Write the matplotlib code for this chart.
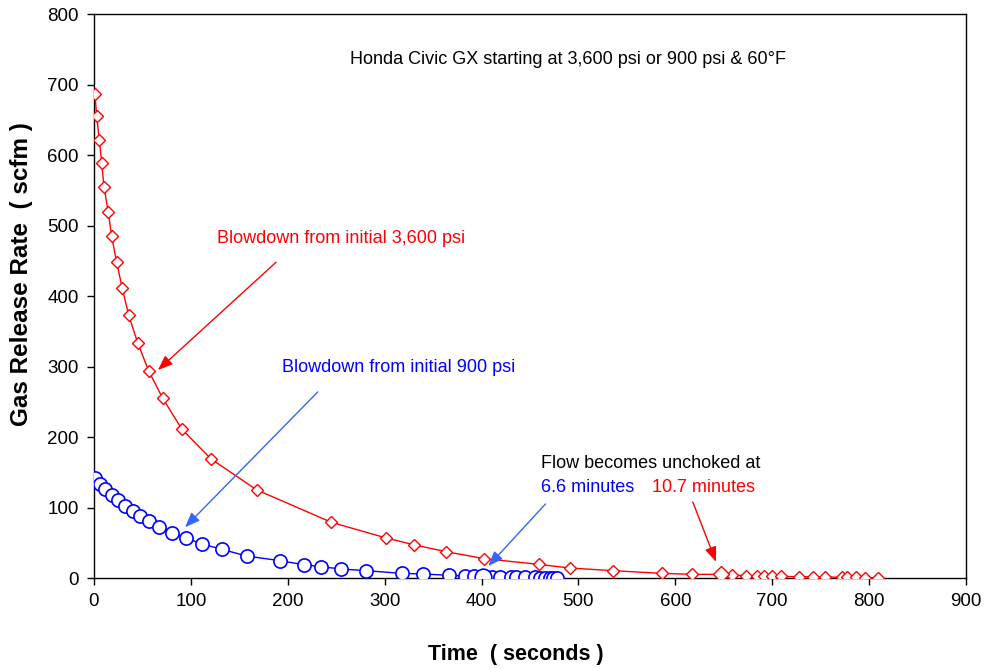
import matplotlib.pyplot as plt
import numpy as np

plt.rcParams['font.family'] = ['Liberation Sans', 'DejaVu Sans']

# blowdown from 3,600 psi (seconds, scfm)
t_3600 = [1, 2.8, 5.5, 8, 10.3, 14.8, 18.2, 23.4, 29.2, 35.8, 45, 56.4, 70.9,
          90.8, 120.7, 168, 245, 301, 330.6, 363.6, 403, 459, 491, 536, 586,
          617.5, 647.6, 658, 673, 684, 691.4, 699.4, 709, 727.5, 742, 755,
          772, 777, 786, 796, 808.7]
q_3600 = [686, 655, 622, 589, 555, 519, 485, 448, 411, 373, 334, 294, 255,
          211, 169, 125, 79, 57, 47, 37.3, 27.4, 19.4, 14.2, 10.4, 6.6,
          5.2, 5.2, 4.0, 3.5, 3.0, 2.8, 2.5, 2.2, 1.9, 1.6, 1.4, 1.2,
          1.0, 0.8, 0.6, 0.4]

# blowdown from 900 psi
t_900 = [1, 6.2, 11.7, 18.3, 24.8, 32, 39.9, 48, 57, 67.4, 80.5, 95, 111.8,
         132, 157.6, 192, 216.7, 234.6, 255, 281, 317.5, 340, 366.7, 383,
         392, 401, 410.4, 419, 430, 436, 444.5, 455, 460, 465.8, 470.6,
         474, 478]
q_900 = [141.4, 134, 126, 118, 110.6, 102, 95.5, 88, 80.4, 72.8, 63.4, 56.7,
         48.2, 40.7, 31.2, 24.6, 18.9, 16, 12.8, 10.4, 6.6, 5.7, 3.8, 2.8,
         2.4, 2.0, 1.8, 1.6, 1.4, 1.2, 1.0, 0.8, 0.6, 0.5, 0.4, 0.3, 0.2]

# points where the flow stops being choked
unchoke_900 = 25    # index into t_900 / q_900
unchoke_3600 = 26   # index into t_3600 / q_3600

fig = plt.figure(figsize=(9.85, 6.69), dpi=100)
ax = fig.add_axes([0.0954, 0.136, 0.8853, 0.843])

ax.plot(t_3600, q_3600, color='#ff0000', lw=1.0, marker='D', ms=6,
        mfc='white', mec='#ff0000', mew=1.0, zorder=3)
ax.plot(t_900, q_900, color='#0000ff', lw=1.0, marker='o', ms=9.5,
        mfc='white', mec='#0000ff', mew=1.2, zorder=3)
ax.plot(t_3600[unchoke_3600], q_3600[unchoke_3600], marker='D', ms=8.5,
        mfc='white', mec='#ff0000', mew=1.0, zorder=4)
ax.plot(t_900[unchoke_900], q_900[unchoke_900], marker='o', ms=12,
        mfc='white', mec='#0000ff', mew=1.2, zorder=4)

ax.set_xlim(0, 900)
ax.set_ylim(0, 800)
ax.set_xticks(np.arange(0, 901, 100))
ax.set_yticks(np.arange(0, 801, 100))
ax.tick_params(direction='out', length=5, width=1, labelsize=13.5, pad=6)
for s in ax.spines.values():
    s.set_linewidth(1.0)
    s.set_color('black')

fig.text(0.524, 0.021, 'Time  ( seconds )', ha='center', va='center',
         fontsize=15.5, fontweight='bold')
fig.text(0.022, 0.59, 'Gas Release Rate  ( scfm )', ha='center', va='center',
         rotation=90, fontsize=17.5, fontweight='bold')

ax.text(264, 735, 'Honda Civic GX starting at 3,600 psi or 900 psi & 60\u00b0F',
        fontsize=13, va='center')
ax.text(127, 482, 'Blowdown from initial 3,600 psi', color='#ff0000',
        fontsize=13, va='center')
ax.text(194, 299, 'Blowdown from initial 900 psi', color='#0000ff',
        fontsize=13, va='center')
ax.text(461, 162, 'Flow becomes unchoked at', fontsize=13, va='center')
ax.text(461, 128, '6.6 minutes', color='#0000ff', fontsize=13, va='center')
ax.text(576, 128, '10.7 minutes', color='#ff0000', fontsize=13, va='center')

red_arrow = dict(arrowstyle='-|>,head_length=0.9,head_width=0.35',
                 color='#ff0000', lw=1.0, shrinkA=0, shrinkB=0)
blue_arrow = dict(arrowstyle='-|>,head_length=0.9,head_width=0.35',
                  color='#3366ff', lw=1.0, shrinkA=0, shrinkB=0)
ax.annotate('', xy=(66, 295), xytext=(188, 448), arrowprops=red_arrow)
ax.annotate('', xy=(94, 72), xytext=(231, 264), arrowprops=blue_arrow)
ax.annotate('', xy=(407, 17), xytext=(466, 105), arrowprops=blue_arrow)
ax.annotate('', xy=(642, 23), xytext=(618, 108), arrowprops=red_arrow)

fig.savefig('out.png', dpi=100)
